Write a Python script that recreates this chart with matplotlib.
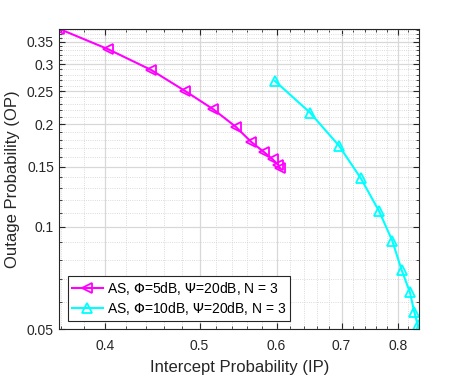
import matplotlib
matplotlib.use('Agg')
import matplotlib.pyplot as plt
from matplotlib.ticker import FixedLocator, MultipleLocator, NullFormatter
import numpy as np

plt.rcParams['font.family'] = ['Liberation Sans', 'DejaVu Sans']

# AS, Phi=5dB, Psi=20dB, N=3
ip_5 = [0.3588, 0.4029, 0.4458, 0.4832, 0.5166, 0.5447, 0.5648, 0.5828, 0.5945, 0.6026, 0.6050]
op_5 = [0.3815, 0.3324, 0.2891, 0.2506, 0.2214, 0.1968, 0.1778, 0.1655, 0.1578, 0.1519, 0.1485]
# AS, Phi=10dB, Psi=20dB, N=3
ip_10 = [0.5977, 0.6496, 0.6957, 0.7326, 0.7651, 0.7892, 0.8069, 0.8230, 0.8314, 0.8383, 0.8409]
op_10 = [0.2683, 0.2164, 0.1730, 0.1388, 0.1110, 0.0910, 0.0746, 0.0641, 0.0562, 0.0514, 0.0500]

xticks = [0.4, 0.5, 0.6, 0.7, 0.8]
yticks = [0.05, 0.1, 0.15, 0.2, 0.25, 0.3, 0.35]

fig = plt.figure(figsize=(4.63, 3.82), dpi=100)
ax = fig.add_axes([0.1285, 0.1387, 0.7765, 0.7862])

ax.plot(ip_5, op_5, color=(1, 0, 1), lw=1.5, marker='<', ms=7.5, mfc='none', mew=1.3,
        label=r'AS, $\Phi$=5dB, $\Psi$=20dB, N = 3')
ax.plot(ip_10, op_10, color=(0, 1, 1), lw=1.5, marker='^', ms=7.5, mfc='none', mew=1.3,
        label=r'AS, $\Phi$=10dB, $\Psi$=20dB, N = 3')

ax.set_xscale('log')
ax.set_yscale('log')
ax.set_xlim(0.3588, 0.8409)
ax.set_ylim(0.0500, 0.3823)

ax.xaxis.set_major_locator(FixedLocator(xticks))
ax.xaxis.set_minor_locator(MultipleLocator(0.02))
ax.yaxis.set_major_locator(FixedLocator(yticks))
ax.yaxis.set_minor_locator(MultipleLocator(0.01))
ax.set_xticklabels([str(t) for t in xticks])
ax.set_yticklabels([str(t) for t in yticks])
ax.xaxis.set_minor_formatter(NullFormatter())
ax.yaxis.set_minor_formatter(NullFormatter())

ax.grid(True, which='major', color='#d8d8d8', lw=0.9, ls='-')
ax.grid(True, which='minor', color='#cfcfcf', lw=0.6, ls=':')
ax.set_axisbelow(True)

ax.tick_params(which='both', direction='in', top=True, right=True, colors='#262626',
               labelsize=10, labelcolor='#262626')
ax.tick_params(axis='x', which='major', length=4, pad=7)
ax.tick_params(axis='y', which='major', length=4, pad=4)
ax.tick_params(which='minor', length=2.5)
for s in ax.spines.values():
    s.set_color('#262626')
    s.set_linewidth(0.8)

ax.set_xlabel('Intercept Probability (IP)', fontsize=12, color='#262626', labelpad=5)
ax.set_ylabel('Outage Probability (OP)', fontsize=12, color='#262626', labelpad=5)

leg = ax.legend(loc='lower left', fontsize=10, fancybox=False, edgecolor='#262626',
                framealpha=1, borderpad=0.3, labelspacing=0.2, handlelength=2.2,
                handletextpad=0.3, borderaxespad=0.6)
leg.get_frame().set_linewidth(0.8)

fig.savefig('out.png', dpi=100)
